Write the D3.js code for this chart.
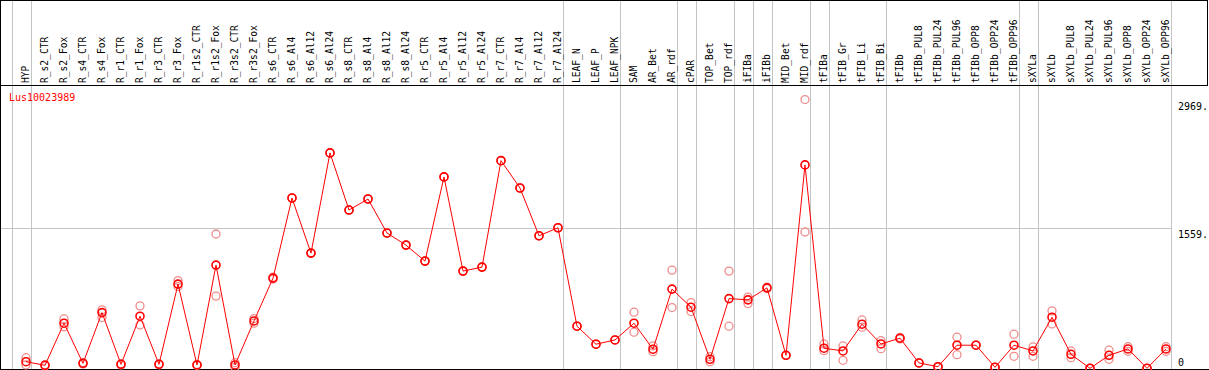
<!DOCTYPE html>
<html>
<head>
<meta charset="utf-8">
<script src="https://cdn.jsdelivr.net/npm/d3@7"></script>
<style>
  body { margin: 0; background: #fff; }
  svg { display: block; font-family: "DejaVu Sans Mono", monospace; }
</style>
</head>
<body>
<svg width="1209" height="370"></svg>
<script>
// expression profile for one gene

const title = "Lus10023989";

const categories = ["HYP", "R_s2_CTR", "R_s2_Fox", "R_s4_CTR", "R_s4_Fox", "R_r1_CTR", "R_r1_Fox",
  "R_r3_CTR", "R_r3_Fox", "R_r1s2_CTR", "R_r1s2_Fox", "R_r3s2_CTR", "R_r3s2_Fox", "R_s6_CTR",
  "R_s6_Al4", "R_s6_Al12", "R_s6_Al24", "R_s8_CTR", "R_s8_Al4", "R_s8_Al12", "R_s8_Al24",
  "R_r5_CTR", "R_r5_Al4", "R_r5_Al12", "R_r5_Al24", "R_r7_CTR", "R_r7_Al4", "R_r7_Al12", "R_r7_Al24",
  "LEAF_N", "LEAF_P", "LEAF_NPK", "SAM", "AR_Bet", "AR_rdf", "cPAR", "TOP_Bet", "TOP_rdf",
  "iFIBa", "iFIBb", "MID_Bet", "MID_rdf", "tFIBa", "tFIB_Gr", "tFIB_Li", "tFIB_Bi", "tFIBb",
  "tFIBb_PUL8", "tFIBb_PUL24", "tFIBb_PUL96", "tFIBb_OPP8", "tFIBb_OPP24", "tFIBb_OPP96",
  "sXYLa", "sXYLb", "sXYLb_PUL8", "sXYLb_PUL24", "sXYLb_PUL96", "sXYLb_OPP8", "sXYLb_OPP24", "sXYLb_OPP96"];

const means = [86, 46, 509, 68, 626, 57, 586, 57, 939, 50, 1148, 50, 534, 1005,
  1886, 1280, 2382, 1754, 1875, 1501, 1368, 1192, 2118, 1082, 1126, 2297, 1996, 1471, 1559,
  476, 278, 325, 509, 223, 884, 685, 112, 780, 766, 898, 156, 2250, 234, 204, 498, 281, 344,
  72, 31, 267, 267, 24, 267, 204, 575, 167, 13, 156, 226, 13, 226];

const rep1 = [130, 52, 556, 76, 656, 64, 700, 62, 978, 55, 1490, 75, 560, 1015,
  1886, 1280, 2382, 1754, 1875, 1501, 1368, 1192, 2118, 1082, 1126, 2297, 1996, 1471, 1559,
  476, 278, 325, 630, 259, 1093, 736, 141, 1082, 796, 905, 156, 2969, 281, 259, 545, 317, 352,
  72, 31, 355, 267, 24, 388, 248, 645, 204, 13, 212, 251, 13, 251];

const rep2 = [50, 40, 470, 60, 571, 50, 490, 52, 912, 45, 807, 25, 509, 995,
  1886, 1280, 2382, 1754, 1875, 1501, 1368, 1192, 2118, 1082, 1126, 2297, 1996, 1471, 1559,
  476, 278, 325, 410, 196, 681, 637, 86, 476, 725, 890, 156, 1512, 207, 101, 465, 229, 336,
  72, 31, 163, 267, 24, 145, 145, 501, 130, 13, 112, 200, 13, 200];

const yTicks = [0, 1559, 2969];
const yMax = 3118;

// a grey line is drawn after each of these columns
const groupEnds = ["HYP", "R_r7_Al24", "LEAF_NPK", "AR_rdf", "cPAR", "TOP_rdf", "iFIBa", "iFIBb",
  "MID_rdf", "tFIBa", "tFIB_Bi", "tFIBb_OPP96", "sXYLa", "sXYLb_OPP96"];

const width = 1209;
const height = 370;
const headerH = 85;
const bottom = 369;

const svg = d3.select("svg");

const x = d3.scalePoint()
  .domain(categories)
  .range([26, 1166]);

const y = d3.scaleLinear()
  .domain([0, yMax])
  .range([369.5, 86]);

const grey = "#c4c4c4";

// vertical group lines
const gx = groupEnds.map(c => x(c) + 4.5);
gx.unshift(x(categories[0]) - x.step() + 4.5);

svg.append("g")
  .selectAll("line")
  .data(gx)
  .join("line")
  .attr("x1", d => Math.round(d) + 0.5)
  .attr("x2", d => Math.round(d) + 0.5)
  .attr("y1", 0)
  .attr("y2", bottom)
  .attr("stroke", grey);

// middle horizontal line
svg.append("line")
  .attr("x1", 0)
  .attr("x2", Math.round(x(categories[categories.length - 1]) + 4.5))
  .attr("y1", Math.round(y(yTicks[1])) + 0.5)
  .attr("y2", Math.round(y(yTicks[1])) + 0.5)
  .attr("stroke", grey);

// frame
svg.append("rect")
  .attr("x", 0.5)
  .attr("y", 0.5)
  .attr("width", width - 2)
  .attr("height", headerH)
  .attr("fill", "none")
  .attr("stroke", "#000");

svg.append("line")
  .attr("x1", 0.5).attr("x2", 0.5)
  .attr("y1", 0).attr("y2", bottom)
  .attr("stroke", "#000");

svg.append("line")
  .attr("x1", 0).attr("x2", width)
  .attr("y1", bottom + 0.5).attr("y2", bottom + 0.5)
  .attr("stroke", "#000");

// column labels
svg.append("g")
  .selectAll("text")
  .data(categories)
  .join("text")
  .attr("transform", d => `translate(${x(d)}, 83) rotate(-90)`)
  .attr("dy", "0.35em")
  .attr("font-size", "9.6px")
  .attr("fill", "#000")
  .text(d => d);

// y labels on the right
svg.append("g")
  .selectAll("text")
  .data(yTicks)
  .join("text")
  .attr("x", 1178)
  .attr("y", d => Math.min(y(d) + 10, 366))
  .attr("font-size", "10px")
  .attr("fill", "#000")
  .text(d => d === 0 ? "0" : d + ".");

svg.append("text")
  .attr("x", 9)
  .attr("y", 101)
  .attr("font-size", "10px")
  .attr("fill", "#ff0000")
  .text(title);

// replicate points
const reps = [];
categories.forEach((c, i) => {
  reps.push({ c: c, v: rep1[i] });
  reps.push({ c: c, v: rep2[i] });
});

svg.append("g")
  .selectAll("circle")
  .data(reps)
  .join("circle")
  .attr("cx", d => x(d.c))
  .attr("cy", d => y(d.v))
  .attr("r", 4)
  .attr("fill", "none")
  .attr("stroke", "#f08c8c")
  .attr("stroke-width", 1.3);

// mean line
const line = d3.line()
  .x((d, i) => x(categories[i]))
  .y(d => y(d));

svg.append("path")
  .datum(means)
  .attr("d", line)
  .attr("fill", "none")
  .attr("stroke", "#ff0000")
  .attr("stroke-width", 1);

svg.append("g")
  .selectAll("circle")
  .data(means)
  .join("circle")
  .attr("cx", (d, i) => x(categories[i]))
  .attr("cy", d => y(d))
  .attr("r", 4)
  .attr("fill", "none")
  .attr("stroke", "#ff0000")
  .attr("stroke-width", 1.6);
</script>
</body>
</html>
